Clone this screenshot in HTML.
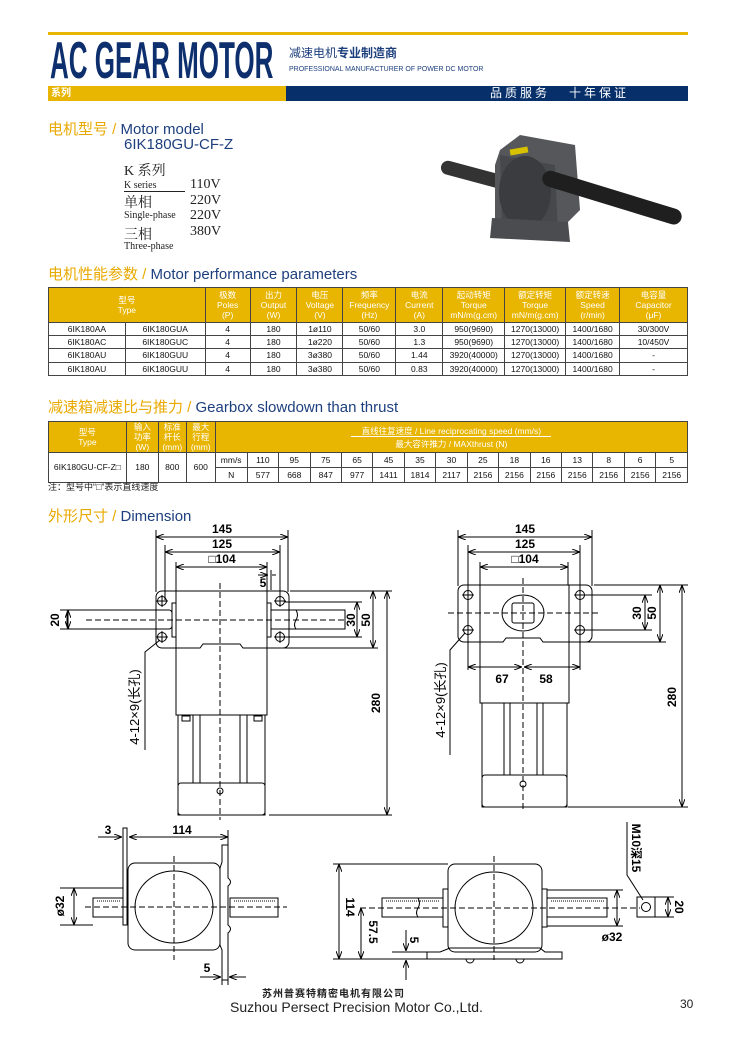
<!DOCTYPE html>
<html><head><meta charset="utf-8"><style>
*{margin:0;padding:0;box-sizing:border-box}
body{width:730px;height:1050px;background:#fff;position:relative;overflow:hidden;font-family:"Liberation Sans","Noto Sans CJK SC",sans-serif}
.a{position:absolute;white-space:nowrap}
.sec{font-size:15px;color:#1d3f7e}
.sec b{color:#e9a900;font-weight:normal}
table{position:absolute;border-collapse:collapse;font-size:8.5px;color:#111}
td{border:1px solid #444;text-align:center;padding:0;line-height:11px}
td.h{background:#e8b500;color:#fff;line-height:10px}
.ser{font-family:"Liberation Serif","Noto Serif CJK SC",serif;color:#222}
</style></head><body>
<div class="a" style="left:48px;top:32px;width:640px;height:3px;background:#e8b500"></div>
<div class="a" style="left:50px;top:33px;font-size:52px;font-weight:bold;color:#0d2f6e;transform:scaleX(0.50);transform-origin:0 0;line-height:56px">AC GEAR MOTOR</div>
<div class="a" style="left:289px;top:44px;font-size:12px;color:#1d3f7e">减速电机<b>专业制造商</b></div>
<div class="a" style="left:289px;top:66px;font-size:7px;color:#1d3f7e">PROFESSIONAL MANUFACTURER OF POWER DC MOTOR</div>
<div class="a" style="left:48px;top:86px;width:238px;height:15px;background:#e8b500;color:#fff;font-size:10px;font-weight:bold;padding-left:3px;line-height:15px">系列</div>
<div class="a" style="left:286px;top:86px;width:402px;height:15px;background:#07306b;color:#fff;font-size:12px;line-height:15px;padding-left:204px;letter-spacing:3px">品质服务&nbsp;&nbsp;&nbsp;十年保证</div>

<div class="a sec" style="left:48px;top:118px"><b>电机型号 / </b>Motor model</div>
<div class="a sec" style="left:124px;top:136px">6IK180GU-CF-Z</div>
<div class="a ser" style="left:124px;top:160px;font-size:14px">K 系列</div>
<div class="a ser" style="left:124px;top:180px;font-size:10px;border-bottom:1px solid #222;width:61px">K series</div>
<div class="a ser" style="left:190px;top:177px;font-size:14px">110V</div>
<div class="a ser" style="left:124px;top:192px;font-size:14px">单相</div>
<div class="a ser" style="left:190px;top:193px;font-size:14px">220V</div>
<div class="a ser" style="left:124px;top:210px;font-size:10px">Single-phase</div>
<div class="a ser" style="left:190px;top:208px;font-size:14px">220V</div>
<div class="a ser" style="left:124px;top:224px;font-size:14px">三相</div>
<div class="a ser" style="left:190px;top:224px;font-size:14px">380V</div>
<div class="a ser" style="left:124px;top:241px;font-size:10px">Three-phase</div>

<svg class="a" style="left:440px;top:130px" width="250" height="120">
<rect x="0" y="38" width="80" height="14" rx="7" fill="#333" transform="rotate(15 35 45)"/>
<polygon points="60,20 80,5 135,15 140,80 120,100 70,105 55,95 55,35" fill="#55575a"/>
<polygon points="60,25 115,35 118,105 62,100" fill="#46484b"/>
<ellipse cx="85" cy="62" rx="26" ry="36" fill="#3a3c3f"/>
<rect x="70" y="18" width="18" height="6" fill="#d8c200" transform="rotate(-10 79 21)"/>
<polygon points="52,88 128,92 130,112 50,108" fill="#4a4c4f"/>
<rect x="100" y="56" width="145" height="16" rx="8" fill="#1f1f1f" transform="rotate(17 160 64)"/>
</svg>

<div class="a sec" style="left:48px;top:263px"><b>电机性能参数 / </b>Motor performance parameters</div>
<table style="left:48px;top:287px;width:640px">
<colgroup><col style="width:77px"><col style="width:80px"><col style="width:45px"><col style="width:47px"><col style="width:46px"><col style="width:53px"><col style="width:47px"><col style="width:62px"><col style="width:61px"><col style="width:54px"><col style="width:68px"></colgroup>
<tr style="height:35px"><td class="h" colspan="2">型号<br>Type</td><td class="h">极数<br>Poles<br>(P)</td><td class="h">出力<br>Output<br>(W)</td><td class="h">电压<br>Voltage<br>(V)</td><td class="h">频率<br>Frequency<br>(Hz)</td><td class="h">电流<br>Current<br>(A)</td><td class="h">起动转矩<br>Torque<br>mN/m(g.cm)</td><td class="h">额定转矩<br>Torque<br>mN/m(g.cm)</td><td class="h">额定转速<br>Speed<br>(r/min)</td><td class="h">电容量<br>Capacitor<br>(μF)</td></tr>
<tr style="height:13px"><td>6IK180AA</td><td>6IK180GUA</td><td>4</td><td>180</td><td>1ø110</td><td>50/60</td><td>3.0</td><td>950(9690)</td><td>1270(13000)</td><td>1400/1680</td><td>30/300V</td></tr>
<tr style="height:13px"><td>6IK180AC</td><td>6IK180GUC</td><td>4</td><td>180</td><td>1ø220</td><td>50/60</td><td>1.3</td><td>950(9690)</td><td>1270(13000)</td><td>1400/1680</td><td>10/450V</td></tr>
<tr style="height:14px"><td>6IK180AU</td><td>6IK180GUU</td><td>4</td><td>180</td><td>3ø380</td><td>50/60</td><td>1.44</td><td>3920(40000)</td><td>1270(13000)</td><td>1400/1680</td><td>-</td></tr>
<tr style="height:13px"><td>6IK180AU</td><td>6IK180GUU</td><td>4</td><td>180</td><td>3ø380</td><td>50/60</td><td>0.83</td><td>3920(40000)</td><td>1270(13000)</td><td>1400/1680</td><td>-</td></tr>
</table>

<div class="a sec" style="left:48px;top:396px"><b>减速箱减速比与推力 / </b>Gearbox slowdown than thrust</div>
<table style="left:48px;top:421px;width:640px">
<colgroup><col style="width:78px"><col style="width:32px"><col style="width:28px"><col style="width:29px"><col style="width:32px"><col span="14" style="width:31.5px"></colgroup>
<tr style="height:27px"><td class="h">型号<br>Type</td><td class="h">输入<br>功率<br>(W)</td><td class="h">标准<br>杆长<br>(mm)</td><td class="h">最大<br>行程<br>(mm)</td><td class="h" colspan="15"><div style="border-bottom:1px solid #fff;width:200px;margin:0 auto 2px">直线往复速度 / Line reciprocating speed (mm/s)</div>最大容许推力 / MAXthrust (N)</td></tr>
<tr style="height:15px"><td rowspan="2">6IK180GU-CF-Z□</td><td rowspan="2">180</td><td rowspan="2">800</td><td rowspan="2">600</td><td>mm/s</td><td>110</td><td>95</td><td>75</td><td>65</td><td>45</td><td>35</td><td>30</td><td>25</td><td>18</td><td>16</td><td>13</td><td>8</td><td>6</td><td>5</td></tr>
<tr style="height:15px"><td>N</td><td>577</td><td>668</td><td>847</td><td>977</td><td>1411</td><td>1814</td><td>2117</td><td>2156</td><td>2156</td><td>2156</td><td>2156</td><td>2156</td><td>2156</td><td>2156</td></tr>
</table>
<div class="a" style="left:48px;top:480px;font-size:9px;color:#222">注：型号中“□”表示直线速度</div>
<div class="a sec" style="left:48px;top:505px"><b>外形尺寸 / </b>Dimension</div>

<svg class="a" style="left:0;top:0" width="730" height="1050" font-family="Liberation Sans, Noto Sans CJK SC, sans-serif" font-size="12" font-weight="bold">
<defs><marker id="ar" markerWidth="8" markerHeight="6" refX="8" refY="3" orient="auto-start-reverse" markerUnits="userSpaceOnUse"><path d="M0,0 L8,3 L0,6" fill="none" stroke="#000"/></marker></defs>
<g stroke="#000" fill="none" stroke-width="1">
<line x1="156" y1="530" x2="156" y2="592"/><line x1="288" y1="530" x2="288" y2="592"/><line x1="165" y1="545" x2="165" y2="600"/><line x1="280" y1="545" x2="280" y2="600"/><line x1="176" y1="562" x2="176" y2="592"/><line x1="267" y1="562" x2="267" y2="592"/>
<line x1="156" y1="537" x2="288" y2="537" marker-start="url(#ar)" marker-end="url(#ar)"/>
<line x1="165" y1="552" x2="280" y2="552" marker-start="url(#ar)" marker-end="url(#ar)"/>
<line x1="176" y1="567" x2="267" y2="567" marker-start="url(#ar)" marker-end="url(#ar)"/>
<line x1="258" y1="575" x2="268" y2="575" marker-end="url(#ar)"/><line x1="276" y1="575" x2="272" y2="575"/><line x1="271" y1="570" x2="271" y2="590"/>
<rect x="156" y="591" width="133" height="57" rx="6"/>
<rect x="176" y="591" width="91" height="124" fill="#fff"/>
<path d="M176,648 H200 L203,644 H240 L243,648 H267"/>
<rect x="172" y="603" width="4" height="34"/><rect x="267" y="603" width="4" height="34"/>
<rect x="67" y="610" width="105" height="19" rx="3"/><rect x="271" y="610" width="74" height="19"/>
<path d="M296,610 q3,5 0,10 q-3,5 0,9"/>
<rect x="178" y="715" width="87" height="100"/><rect x="178" y="783" width="87" height="32" rx="3"/>
<line x1="193" y1="715" x2="193" y2="783"/><line x1="200" y1="715" x2="200" y2="783"/><line x1="240" y1="715" x2="240" y2="783"/><line x1="247" y1="715" x2="247" y2="783"/>
<rect x="182" y="716" width="8" height="5"/><rect x="254" y="716" width="8" height="5"/>
<circle cx="162" cy="601" r="4.5"/><circle cx="162" cy="637" r="4.5"/><circle cx="280" cy="601" r="4.5"/><circle cx="280" cy="637" r="4.5"/>
<path d="M156,601h12M162,595v12M156,637h12M162,631v12M274,601h12M280,595v12M274,637h12M280,631v12"/>
<circle cx="220" cy="791" r="3"/>
<line x1="220" y1="583" x2="220" y2="820" stroke-dasharray="6,3"/><line x1="86" y1="620" x2="345" y2="620" stroke-dasharray="6,3"/>
<line x1="60" y1="610" x2="80" y2="610"/><line x1="60" y1="629" x2="80" y2="629"/><line x1="68" y1="610" x2="68" y2="629" marker-start="url(#ar)" marker-end="url(#ar)"/>
<line x1="290" y1="591" x2="392" y2="591"/><line x1="269" y1="815" x2="392" y2="815"/><line x1="285" y1="602" x2="362" y2="602"/><line x1="285" y1="637" x2="362" y2="637"/><line x1="270" y1="648" x2="378" y2="648"/>
<line x1="387" y1="591" x2="387" y2="815" marker-start="url(#ar)" marker-end="url(#ar)"/>
<line x1="373" y1="591" x2="373" y2="648" marker-start="url(#ar)" marker-end="url(#ar)"/>
<line x1="357" y1="602" x2="357" y2="637" marker-start="url(#ar)" marker-end="url(#ar)"/>
<path d="M160,640 L145,652 V750"/>
<line x1="458" y1="530" x2="458" y2="586"/><line x1="592" y1="530" x2="592" y2="586"/><line x1="468" y1="545" x2="468" y2="670"/><line x1="580" y1="545" x2="580" y2="670"/><line x1="480" y1="562" x2="480" y2="586"/><line x1="568" y1="562" x2="568" y2="586"/>
<line x1="458" y1="537" x2="592" y2="537" marker-start="url(#ar)" marker-end="url(#ar)"/>
<line x1="468" y1="552" x2="580" y2="552" marker-start="url(#ar)" marker-end="url(#ar)"/>
<line x1="480" y1="567" x2="568" y2="567" marker-start="url(#ar)" marker-end="url(#ar)"/>
<rect x="458" y="585" width="134" height="57" rx="6"/>
<rect x="480" y="585" width="89" height="118" fill="#fff"/>
<path d="M480,642 H503 L506,638 H540 L543,642 H569"/>
<ellipse cx="523" cy="613" rx="21" ry="18"/><rect x="512" y="603" width="22" height="20" rx="2"/>
<rect x="482" y="703" width="85" height="104"/><rect x="482" y="775" width="85" height="32" rx="3"/>
<line x1="504" y1="703" x2="504" y2="775"/><line x1="510" y1="703" x2="510" y2="775"/><line x1="537" y1="703" x2="537" y2="775"/><line x1="543" y1="703" x2="543" y2="775"/>
<circle cx="468" cy="595" r="4.5"/><circle cx="468" cy="630" r="4.5"/><circle cx="580" cy="595" r="4.5"/><circle cx="580" cy="630" r="4.5"/>
<path d="M462,595h12M468,589v12M462,630h12M468,624v12M574,595h12M580,589v12M574,630h12M580,624v12"/>
<circle cx="523" cy="784" r="3"/>
<line x1="523" y1="578" x2="523" y2="812" stroke-dasharray="6,3"/><line x1="448" y1="613" x2="600" y2="613" stroke-dasharray="6,3"/>
<line x1="468" y1="667" x2="522" y2="667" marker-start="url(#ar)" marker-end="url(#ar)"/><line x1="524" y1="667" x2="580" y2="667" marker-start="url(#ar)" marker-end="url(#ar)"/>
<line x1="594" y1="585" x2="688" y2="585"/><line x1="568" y1="807" x2="688" y2="807"/><line x1="585" y1="595" x2="652" y2="595"/><line x1="585" y1="630" x2="652" y2="630"/><line x1="570" y1="642" x2="666" y2="642"/>
<line x1="682" y1="585" x2="682" y2="807" marker-start="url(#ar)" marker-end="url(#ar)"/>
<line x1="660" y1="585" x2="660" y2="642" marker-start="url(#ar)" marker-end="url(#ar)"/>
<line x1="645" y1="595" x2="645" y2="630" marker-start="url(#ar)" marker-end="url(#ar)"/>
<path d="M465,633 L450,650 V755"/>
<rect x="128" y="863" width="92" height="87" rx="7"/><ellipse cx="174" cy="907" rx="39" ry="36"/>
<rect x="123" y="828" width="4" height="97"/>
<path d="M222,845 H228 V878 Q233,882 228,886 V925 Q233,929 228,933 V980 H222 V950 L220,945 V868 L222,862 Z"/>
<rect x="93" y="898" width="30" height="19"/><rect x="230" y="898" width="48" height="19"/>
<path d="M97,901h24M234,901h42" stroke-dasharray="1,1"/>
<line x1="85" y1="907" x2="287" y2="907" stroke-dasharray="6,3"/><line x1="174" y1="856" x2="174" y2="960" stroke-dasharray="6,3"/>
<line x1="228" y1="830" x2="228" y2="845"/>
<line x1="129" y1="837" x2="228" y2="837" marker-start="url(#ar)" marker-end="url(#ar)"/>
<line x1="98" y1="837" x2="122" y2="837" marker-end="url(#ar)"/>
<line x1="60" y1="888" x2="123" y2="888"/><line x1="60" y1="925" x2="93" y2="925"/>
<line x1="74" y1="888" x2="74" y2="925" marker-start="url(#ar)" marker-end="url(#ar)"/>
<line x1="222" y1="980" x2="222" y2="985"/><line x1="228" y1="980" x2="228" y2="985"/>
<line x1="200" y1="977" x2="221" y2="977" marker-end="url(#ar)"/><line x1="246" y1="977" x2="229" y2="977" marker-end="url(#ar)"/>
<rect x="448" y="864" width="94" height="88" rx="7"/><ellipse cx="494" cy="908" rx="39" ry="36"/>
<rect x="443" y="889" width="5" height="38"/><rect x="542" y="889" width="5" height="38"/>
<rect x="382" y="898" width="61" height="19"/><rect x="547" y="898" width="60" height="19"/>
<path d="M386,901h54M551,901h54" stroke-dasharray="1,1"/>
<path d="M418,898 q3,5 0,10 q-3,5 0,9"/>
<path d="M427,952 H440 L450,948 H540 L545,952 H562 V959 H427 Z"/>
<path d="M466,959 a4,4 0 0 0 8,0 M516,959 a4,4 0 0 0 8,0"/>
<line x1="360" y1="908" x2="640" y2="908" stroke-dasharray="6,3"/><line x1="494" y1="856" x2="494" y2="960" stroke-dasharray="6,3"/>
<line x1="333" y1="864" x2="448" y2="864"/><line x1="333" y1="959" x2="427" y2="959"/>
<line x1="339" y1="864" x2="339" y2="959" marker-start="url(#ar)" marker-end="url(#ar)"/>
<line x1="361" y1="908" x2="361" y2="959" marker-start="url(#ar)" marker-end="url(#ar)"/>
<line x1="392" y1="952" x2="427" y2="952"/>
<line x1="406" y1="930" x2="406" y2="951" marker-end="url(#ar)"/><line x1="406" y1="980" x2="406" y2="960" marker-end="url(#ar)"/>
<line x1="547" y1="890" x2="623" y2="890"/><line x1="547" y1="926" x2="623" y2="926"/>
<line x1="617" y1="890" x2="617" y2="926" marker-start="url(#ar)" marker-end="url(#ar)"/>
<rect x="637" y="897" width="18" height="20"/><circle cx="646" cy="907" r="4.5"/>
<path d="M627,822 V875 L643,900"/>
<line x1="655" y1="897" x2="674" y2="897"/><line x1="655" y1="917" x2="674" y2="917"/>
<line x1="668" y1="897" x2="668" y2="917" marker-start="url(#ar)" marker-end="url(#ar)"/>
</g>
<g fill="#000" stroke="none">
<text x="222" y="533" text-anchor="middle">145</text><text x="222" y="548" text-anchor="middle">125</text><text x="222" y="563" text-anchor="middle">□104</text>
<text x="263" y="587" text-anchor="middle">5</text>
<text transform="translate(59,620) rotate(-90)" text-anchor="middle">20</text>
<text transform="translate(355,620) rotate(-90)" text-anchor="middle">30</text>
<text transform="translate(370,620) rotate(-90)" text-anchor="middle">50</text>
<text transform="translate(380,703) rotate(-90)" text-anchor="middle">280</text>
<text transform="translate(139,707) rotate(-90)" text-anchor="middle" font-weight="normal" font-size="13">4-12×9(长孔)</text>
<text x="525" y="533" text-anchor="middle">145</text><text x="525" y="548" text-anchor="middle">125</text><text x="525" y="563" text-anchor="middle">□104</text>
<text x="502" y="683" text-anchor="middle">67</text><text x="546" y="683" text-anchor="middle">58</text>
<text transform="translate(641,613) rotate(-90)" text-anchor="middle">30</text>
<text transform="translate(656,613) rotate(-90)" text-anchor="middle">50</text>
<text transform="translate(676,697) rotate(-90)" text-anchor="middle">280</text>
<text transform="translate(445,700) rotate(-90)" text-anchor="middle" font-weight="normal" font-size="13">4-12×9(长孔)</text>
<text x="108" y="834" text-anchor="middle">3</text><text x="182" y="834" text-anchor="middle">114</text>
<text transform="translate(64,906) rotate(-90)" text-anchor="middle">ø32</text>
<text x="207" y="972" text-anchor="middle">5</text>
<text transform="translate(346,907) rotate(90)" text-anchor="middle">114</text>
<text transform="translate(369,932) rotate(90)" text-anchor="middle">57.5</text>
<text transform="translate(410,940) rotate(90)" text-anchor="middle">5</text>
<text x="612" y="941" text-anchor="middle">ø32</text>
<text transform="translate(675,907) rotate(90)" text-anchor="middle">20</text>
<text transform="translate(632,848) rotate(90)" text-anchor="middle">M10深15</text>
</g>
</svg>
<div class="a" style="left:262px;top:985px;font-size:10px;color:#222;font-weight:bold;letter-spacing:1px">苏州普赛特精密电机有限公司</div>
<div class="a" style="left:230px;top:999px;font-size:14px;color:#222">Suzhou Persect Precision Motor Co.,Ltd.</div>
<div class="a" style="left:680px;top:997px;font-size:12px;color:#222">30</div>
</body></html>
